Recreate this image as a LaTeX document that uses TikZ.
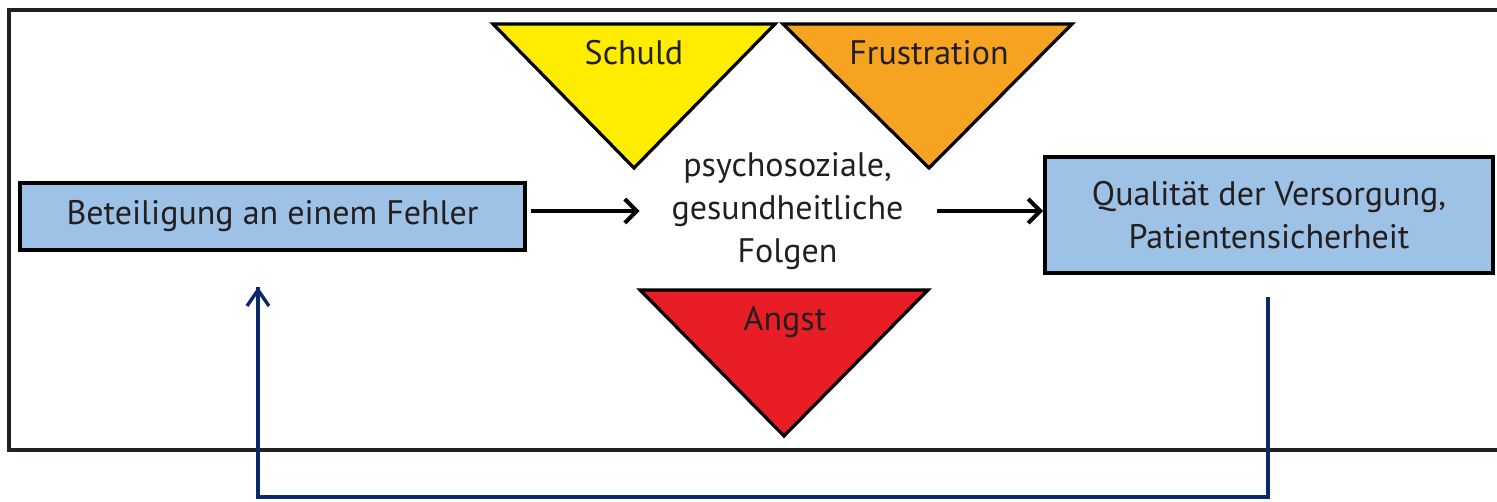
\documentclass[tikz,border=0pt]{standalone}
\usepackage{fontspec}
\setmainfont{PT Sans}
\usetikzlibrary{arrows.meta}
\definecolor{boxblue}{HTML}{9DC2E6}
\definecolor{tyellow}{HTML}{FFED00}
\definecolor{torange}{HTML}{F5A320}
\definecolor{tred}{HTML}{E81D25}
\definecolor{navy}{HTML}{0A2A6A}
\definecolor{ink}{HTML}{231F20}
\tikzset{
  frame/.style={draw=ink, line width=1.6pt},
  bluebox/.style={draw=black, fill=boxblue, line width=2pt, inner sep=0pt, align=center, text=ink, font=\fontsize{17}{21.5}\selectfont},
  tri/.style={draw=black, line width=1.6pt, line join=miter},
  tlabel/.style={text=ink, font=\fontsize{17}{20}\selectfont, inner sep=0pt},
  flow/.style={draw=black, line width=2pt, -{Straight Barb[length=6pt,width=12pt,line width=2pt]}},
  fb/.style={draw=navy, line width=1.7pt, line join=miter},
  fbtip/.style={-{Straight Barb[length=8pt,width=11pt,line width=1.7pt]}}
}
\begin{document}
\begin{tikzpicture}[x=0.5pt,y=-0.5pt]
\useasboundingbox (0,0) rectangle (1497,502);
% outer frame (open at right)
\draw[frame] (1497,10) -- (9,10) -- (9,450) -- (1497,450);
% triangles
\draw[tri, fill=tyellow] (493,24) -- (775,24) -- (634,168) -- cycle;
\draw[tri, fill=torange] (783,24) -- (1072,24) -- (929,168) -- cycle;
\draw[tri, fill=tred] (640,290) -- (928,290) -- (784,436) -- cycle;
\node[tlabel] (schuld) at (634,53) {Schuld};
\node[tlabel] (frust) at (929,53) {Frustration};
\node[tlabel] (angst) at (785,322) {Angst};
% boxes
\node[bluebox, minimum width=252.5pt, minimum height=33.5pt] (lb) at (272.5,216.5) {Beteiligung an einem Fehler};
\node[bluebox, minimum width=224pt, minimum height=57.5pt] (rb) at (1269,215) {Qualität der Versorgung,\\Patientensicherheit};
\node[text=ink, font=\fontsize{17}{21.5}\selectfont, align=center, inner sep=0pt, text width=147.5pt] (ct) at (787.5,211) {psychosoziale,\\gesundheitliche\\Folgen};
% flow arrows
\draw[flow, shorten <=2pt] (lb.east |- ct.west) -- (ct.west);
\draw[flow, shorten <=1pt] (ct.east) -- (ct.east -| rb.west);
% feedback loop
\coordinate (fbs) at (1268,297);
\coordinate (fbc1) at (1268,497);
\coordinate (fbc2) at (258,497);
\coordinate (fbe) at (258,287);
\draw[fb] (fbs) -- (fbc1) -- (fbc2) -- (fbe);
\draw[fb, fbtip] (fbc2) -- (fbe);
\end{tikzpicture}
\end{document}
